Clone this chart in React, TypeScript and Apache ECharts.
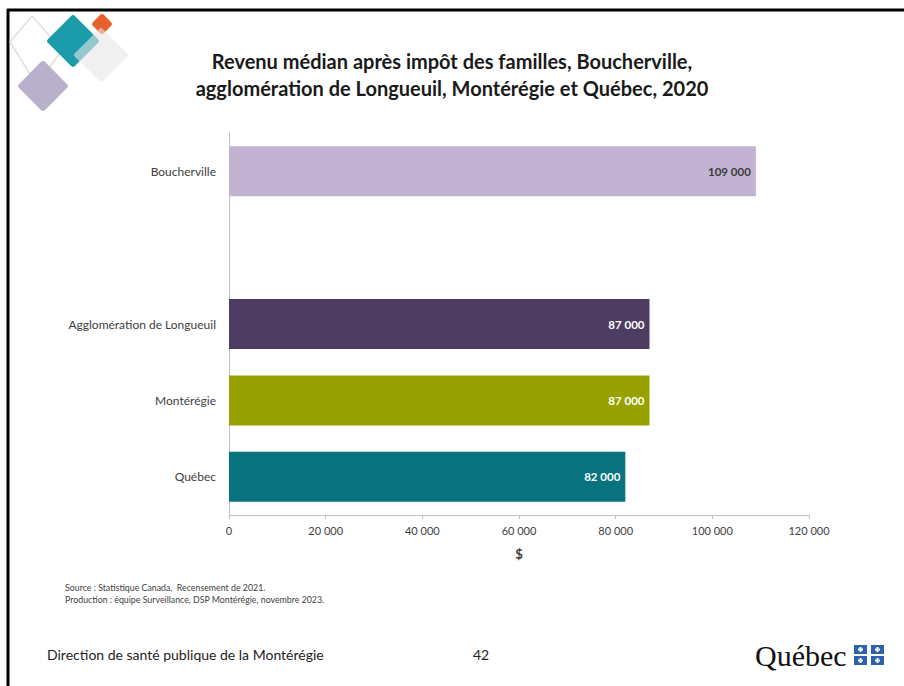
import React, { useEffect, useRef } from "react";
import * as echarts from "echarts";

const categories = ["Boucherville", "", "Agglomération de Longueuil", "Montérégie", "Québec"];
const values: (number | null)[] = [109000, null, 87000, 87000, 82000];
const barColors = ["#C1B3D1", "#ffffff", "#4E3D62", "#97A200", "#08737F"];
const labelColors = ["#3b3b3b", "#ffffff", "#ffffff", "#ffffff", "#ffffff"];
const xTicks = [0, 20000, 40000, 60000, 80000, 100000, 120000];

const titleText = "Revenu médian après impôt des familles, Boucherville,\nagglomération de Longueuil, Montérégie et Québec, 2020";
const sourceLines = [
  "Source : Statistique Canada,  Recensement de 2021.",
  "Production : équipe Surveillance, DSP Montérégie, novembre 2023.",
];
const footerText = "Direction de santé publique de la Montérégie";
const pageNumber = "42";

const fmt = (v: number) => String(Math.round(v)).replace(/\B(?=(\d{3})+(?!\d))/g, " ");

const FONT = "Lato, 'Open Sans', sans-serif";

function diamond(cx: number, cy: number, halfDiag: number, style: any, z = 1) {
  const s = halfDiag * Math.SQRT2;
  return {
    type: "rect",
    x: cx,
    y: cy,
    rotation: Math.PI / 4,
    z,
    shape: { x: -s / 2, y: -s / 2, width: s, height: s, r: 3 },
    style,
    silent: true,
  };
}

export default function App() {
  const ref = useRef<HTMLDivElement>(null);
  useEffect(() => {
    document.body.style.margin = "0";
    const chart = echarts.init(ref.current!, null, { renderer: "svg" });
    const flagRects: any[] = [];
    const flagPos = [
      [854, 645],
      [871, 645],
      [854, 656],
      [871, 656],
    ];
    flagPos.forEach(([x, y]) => {
      flagRects.push({ type: "rect", shape: { x, y, width: 13, height: 9 }, style: { fill: "#2F62AE" }, silent: true });
      flagRects.push({ type: "rect", shape: { x: x + 5.5, y: y + 2, width: 2, height: 5 }, style: { fill: "#ffffff" }, silent: true });
      flagRects.push({ type: "rect", shape: { x: x + 4, y: y + 3.5, width: 5, height: 2 }, style: { fill: "#ffffff" }, silent: true });
    });
    chart.setOption({
      animation: false,
      backgroundColor: "#ffffff",
      title: {
        text: titleText,
        left: "center",
        top: 42,
        textStyle: {
          fontFamily: FONT,
          fontSize: 20,
          fontWeight: "bold",
          lineHeight: 27,
          color: "#1a1a1a",
        },
      },
      grid: { left: 229, top: 133, width: 580, height: 382, containLabel: false },
      xAxis: {
        type: "value",
        min: 0,
        max: 120000,
        interval: 20000,
        name: "$",
        nameLocation: "middle",
        nameGap: 32,
        nameTextStyle: { fontFamily: FONT, fontSize: 13, fontWeight: "bold", color: "#404040" },
        axisLine: { show: true, lineStyle: { color: "#bfbfbf", width: 1 } },
        axisTick: { show: true, length: 4, lineStyle: { color: "#bfbfbf" } },
        splitLine: { show: false },
        axisLabel: {
          margin: 10,
          fontFamily: FONT,
          fontSize: 11,
          color: "#404040",
          formatter: (v: number) => (xTicks.includes(v) ? fmt(v) : ""),
        },
      },
      yAxis: {
        type: "category",
        inverse: true,
        data: categories,
        axisLine: { show: true, lineStyle: { color: "#bfbfbf", width: 1 } },
        axisTick: { show: false },
        axisLabel: { margin: 13, fontFamily: FONT, fontSize: 12, color: "#404040" },
      },
      series: [
        {
          type: "bar",
          barWidth: 50,
          data: values.map((v, i) => ({
            value: v,
            itemStyle: { color: barColors[i] },
            label: { color: labelColors[i] },
          })),
          label: {
            show: true,
            position: "insideRight",
            distance: 5,
            fontFamily: FONT,
            fontSize: 11.5,
            fontWeight: "bold",
            formatter: (p: any) => (p.value == null ? "" : fmt(p.value)),
          },
        },
      ],
      graphic: [
        // frame
        { type: "line", shape: { x1: 7, y1: 10, x2: 904, y2: 10 }, style: { stroke: "#000", lineWidth: 3 }, silent: true },
        { type: "line", shape: { x1: 8, y1: 9, x2: 8, y2: 686 }, style: { stroke: "#000", lineWidth: 3 }, silent: true },
        // logo
        {
          type: "polygon",
          z: 1,
          shape: { points: [[32, 16], [62, 50], [37, 85], [10, 42]] },
          style: { fill: "none", stroke: "#dde2da", lineWidth: 1.5, lineJoin: "round" },
          silent: true,
        },
        diamond(73, 41, 27, { fill: "#1A9BAA" }, 2),
        diamond(102, 24, 11, { fill: "#E8602A" }, 2),
        diamond(101, 55, 28, { fill: "rgba(232,230,230,0.6)" }, 3),
        diamond(43, 86, 26, { fill: "#B9B1CB" }, 4),
        // source
        {
          type: "text",
          x: 65,
          y: 581,
          style: { text: sourceLines.join("\n"), fontFamily: FONT, fontSize: 8.8, lineHeight: 12, fill: "#404040" },
          silent: true,
        },
        // footer
        {
          type: "text",
          x: 47,
          y: 647,
          style: { text: footerText, fontFamily: FONT, fontSize: 14, fill: "#222" },
          silent: true,
        },
        {
          type: "text",
          x: 473,
          y: 647,
          style: { text: pageNumber, fontFamily: FONT, fontSize: 14, fill: "#222" },
          silent: true,
        },
        {
          type: "text",
          x: 755,
          y: 640,
          style: { text: "Québec", fontFamily: "'Liberation Serif', 'DejaVu Serif', serif", fontSize: 30, fill: "#111" },
          silent: true,
        },
        ...flagRects,
      ],
    });
    return () => chart.dispose();
  }, []);
  return <div ref={ref} style={{ width: 904, height: 686 }} />;
}
